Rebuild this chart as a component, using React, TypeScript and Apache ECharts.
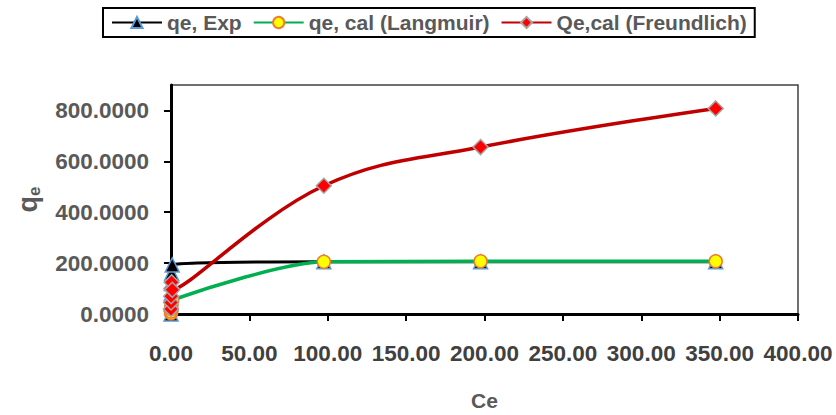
import React, { useEffect, useRef } from "react";
import * as echarts from "echarts";

const ceValues = [0.02, 0.05, 0.1, 0.2, 0.4, 0.8, 97.5, 197.5, 347.5];
const qeExp = [0, 40, 80, 120, 160, 193, 205, 205, 205];
const qeLangmuir = [3, 10, 20, 30, 42, 55, 205, 207, 207];
const qeFreundlich = [20, 45, 70, 100, 125, 95, 504, 656, 808];
const yTicks = [0, 200, 400, 600, 800];
const seriesNames = ["qe, Exp", "qe, cal (Langmuir)", "Qe,cal (Freundlich)"];

const FONT = "'Liberation Sans', Arial, sans-serif";

function pairs(ys: number[]) {
  return ceValues.map((x, i) => [x, ys[i]]);
}

export default function App() {
  const ref = useRef<HTMLDivElement>(null);
  useEffect(() => {
    if (!ref.current) return;
    const chart = echarts.init(ref.current, undefined, { renderer: "svg" });
    chart.setOption({
      animation: false,
      backgroundColor: "#ffffff",
      grid: {
        left: 171,
        right: 38,
        top: 85,
        bottom: 101,
        containLabel: false,
        outerBoundsMode: "none",
        show: true,
        borderColor: "#404040",
        borderWidth: 1.5,
        backgroundColor: "transparent",
      },
      legend: {
        left: 103,
        top: 8,
        itemWidth: 50,
        itemHeight: 14,
        itemGap: 11,
        padding: [4, 8, 4, 8],
        borderColor: "#000000",
        borderWidth: 2,
        textStyle: { fontFamily: FONT, fontWeight: "bold", fontSize: 21, color: "#595959" },
        data: seriesNames,
      },
      xAxis: {
        type: "value",
        min: 0,
        max: 400,
        interval: 50,
        name: "Ce",
        nameLocation: "middle",
        nameGap: 75,
        nameTextStyle: { fontFamily: FONT, fontWeight: "bold", fontSize: 21, color: "#595959", lineHeight: 22 },
        axisLine: { show: true, onZero: false, lineStyle: { color: "#000000", width: 3 } },
        axisTick: { show: true, inside: false, length: 7, lineStyle: { color: "#000000", width: 2 } },
        splitLine: { show: false },
        axisLabel: {
          margin: 28,
          fontFamily: FONT,
          fontWeight: "bold",
          fontSize: 22.5,
          color: "#404040",
          formatter: (v: number) => v.toFixed(2),
        },
      },
      yAxis: {
        type: "value",
        min: 0,
        max: 900,
        name: "q{sub|e}",
        nameLocation: "middle",
        nameGap: 128,
        nameRotate: 90,
        nameTextStyle: {
          fontFamily: FONT,
          fontWeight: "bold",
          fontSize: 27,
          color: "#595959",
          rich: {
            sub: { fontFamily: FONT, fontWeight: "bold", fontSize: 17, color: "#595959", verticalAlign: "bottom", padding: [14, 0, 0, 0] },
          },
        },
        axisLine: { show: true, onZero: false, lineStyle: { color: "#000000", width: 3 } },
        axisTick: { show: true, inside: false, length: 7, customValues: yTicks, lineStyle: { color: "#000000", width: 2 } },
        splitLine: { show: false },
        axisLabel: {
          margin: 22,
          customValues: yTicks,
          fontFamily: FONT,
          fontWeight: "bold",
          fontSize: 22.5,
          color: "#595959",
          formatter: (v: number) => v.toFixed(4),
        },
      },
      series: [
        {
          name: seriesNames[0],
          type: "line",
          data: pairs(qeExp),
          smooth: 0.4,
          symbol: "triangle",
          symbolSize: 14,
          lineStyle: { color: "#000000", width: 3 },
          itemStyle: { color: "#000000", borderColor: "#5B9BD5", borderWidth: 1.5 },
          z: 2,
        },
        {
          name: seriesNames[1],
          type: "line",
          data: pairs(qeLangmuir),
          smooth: 0.25,
          symbol: "circle",
          symbolSize: 13,
          lineStyle: { color: "#00B050", width: 3.5 },
          itemStyle: { color: "#FFFF00", borderColor: "#ED7D31", borderWidth: 1.5 },
          z: 3,
        },
        {
          name: seriesNames[2],
          type: "line",
          data: pairs(qeFreundlich),
          smooth: 0.4,
          symbol: "diamond",
          symbolSize: 15,
          lineStyle: { color: "#C00000", width: 3.5 },
          itemStyle: { color: "#FF0000", borderColor: "#A5A5A5", borderWidth: 1.5 },
          z: 4,
        },
      ],
    });
    return () => chart.dispose();
  }, []);
  return (
    <div
      ref={ref}
      style={{ position: "fixed", left: 0, top: 0, width: 836, height: 415, background: "#fff" }}
    />
  );
}
